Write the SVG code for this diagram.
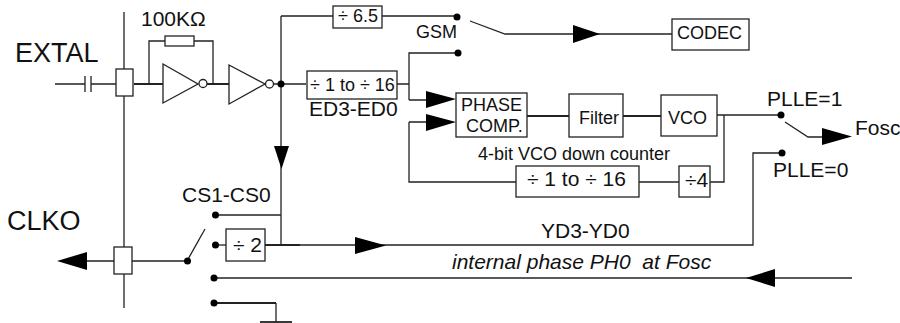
<svg xmlns="http://www.w3.org/2000/svg" width="900" height="323" viewBox="0 0 900 323">
<style>
.b{fill:#fff;stroke:#222;stroke-width:1.3}
.l{fill:none;stroke:#222;stroke-width:1.3}
.h{fill:none;stroke:#222;stroke-width:1.8}
.a{fill:#000;stroke:none}
.d{fill:#000;stroke:none}
text{font-family:"Liberation Sans",Arial,sans-serif;fill:#111}
.t27{font-size:27px}
.t21{font-size:21px}
.t18{font-size:18px}
.i{font-style:italic}
</style>
<rect width="900" height="323" fill="#fff"/>
<g id="connectors">
<path class="l" d="M124 12V308M55 84H85M91 84H116M132 261H187M87 261H114"/>
<path class="l" d="M85 76V92M91 76V92"/>
<path class="h" d="M134 84H163M207 84H229"/>
<path class="l" d="M149 84V41H165M194 41H213V84"/>
<path class="l" d="M273 84H306M281 16V245M281 16H333M382 16H457"/>
<path class="l" d="M397 84H409M409 100V53H458M409 100H430M409 122H430M409 122V182H516M639 182H679M710 182H724V115"/>
<path class="h" d="M527 116H569M623 116H661"/>
<path class="l" d="M717 115H781"/>
<path class="l" d="M785 122L808 137H825"/>
<path class="l" d="M470 21L505 34H600M600 34H672"/>
<path class="l" d="M281 215H215"/>
<path class="l" d="M215 245H226"/>
<path class="h" d="M265 245H300"/>
<path class="l" d="M187 261L205 229"/>
<path class="l" d="M300 245H753V153H782"/>
<path class="l" d="M214 278H852"/>
<path class="h" d="M214 303H276"/>
<path class="l" d="M276 303V322"/>
<path class="h" d="M260 322H292"/>
<path class="a" d="M274 146H289L281.500 169Z"/>
<path class="a" d="M57 261L87 252V270Z"/>
<path class="a" d="M355 237L386 245.500L355 254Z"/>
<path class="a" d="M775 269L746 278L775 287Z"/>
<path class="a" d="M426 91L456 99L426 108Z"/>
<path class="a" d="M426 114L456 122L426 131Z"/>
<path class="a" d="M573 25L600 34L573 43Z"/>
<path class="a" d="M822 128L852 136.500L822 145Z"/>
<circle class="d" cx="281" cy="84" r="3.500"/>
<circle class="d" cx="457" cy="17" r="3.500"/>
<circle class="d" cx="458" cy="53" r="3.500"/>
<circle class="d" cx="781" cy="115" r="3.500"/>
<circle class="d" cx="782" cy="153" r="3.500"/>
<circle class="d" cx="215.500" cy="215" r="3.500"/>
<circle class="d" cx="215.500" cy="245" r="3.500"/>
<circle class="d" cx="187.500" cy="261" r="3.500"/>
<circle class="d" cx="214" cy="278" r="3.500"/>
<circle class="d" cx="214" cy="303" r="3.500"/>
</g>
<g id="extal-label"><text class="t27" x="15" y="62">EXTAL</text></g>
<g id="clko-label"><text class="t27" x="7" y="230">CLKO</text></g>
<g id="pad-extal"><rect class="b" x="116" y="69" width="17" height="27"/></g>
<g id="pad-clko"><rect class="b" x="114" y="247" width="18" height="27"/></g>
<g id="resistor"><rect class="b" x="165" y="36" width="29" height="10"/><text class="t21" x="141" y="26">100KΩ</text></g>
<g id="inv1"><path class="b" d="M163 64L198 84L163 103Z"/><circle class="b" cx="203" cy="83.500" r="4"/></g>
<g id="inv2"><path class="b" d="M229 65L265 84L229 104Z"/><circle class="b" cx="269.500" cy="84" r="4"/></g>
<g id="div65"><rect class="b" x="333" y="6" width="49" height="22"/><text class="t18" x="338" y="22">÷ 6.5</text></g>
<g id="gsm-label"><text class="t18" x="416" y="38">GSM</text></g>
<g id="codec"><rect class="b" x="672" y="19" width="77" height="31"/><text class="t18" x="677" y="39">CODEC</text></g>
<g id="ed-div"><rect class="b" x="307" y="71" width="90" height="28"/><text class="t18" x="310" y="91">÷ 1 to ÷ 16</text></g>
<g id="ed-label"><text class="t21" x="309" y="116">ED3-ED0</text></g>
<g id="phase"><rect class="b" x="456" y="93" width="71" height="44"/><text class="t18" x="461" y="111">PHASE</text><text class="t18" x="466" y="132">COMP.</text></g>
<g id="filter"><rect class="b" x="569" y="94" width="54" height="43"/><text class="t18" x="579" y="124">Filter</text></g>
<g id="vco"><rect class="b" x="661" y="95" width="56" height="41"/><text class="t18" x="668" y="124">VCO</text></g>
<g id="pll-labels"><text class="t21" x="767" y="106">PLLE=1</text><text class="t21" x="773" y="177">PLLE=0</text><text class="t21" x="855" y="135">Fosc</text></g>
<g id="vco-counter"><text class="t18" x="478" y="160">4-bit VCO down counter</text></g>
<g id="div16"><rect class="b" x="516" y="166" width="123" height="31"/><text class="t21" x="527" y="186">÷ 1 to ÷ 16</text></g>
<g id="div4"><rect class="b" x="679" y="166" width="31" height="31"/><text class="t21" x="685" y="187">÷4</text></g>
<g id="div2"><rect class="b" x="226" y="229" width="39" height="32"/><text class="t21" x="233" y="252">÷ 2</text></g>
<g id="cs-label"><text class="t21" x="182" y="202">CS1-CS0</text></g>
<g id="yd-label"><text class="t21" x="541" y="238">YD3-YD0</text></g>
<g id="ph0-label"><text class="t21 i" x="452" y="269" xml:space="preserve">internal phase PH0  at Fosc</text></g>
</svg>
